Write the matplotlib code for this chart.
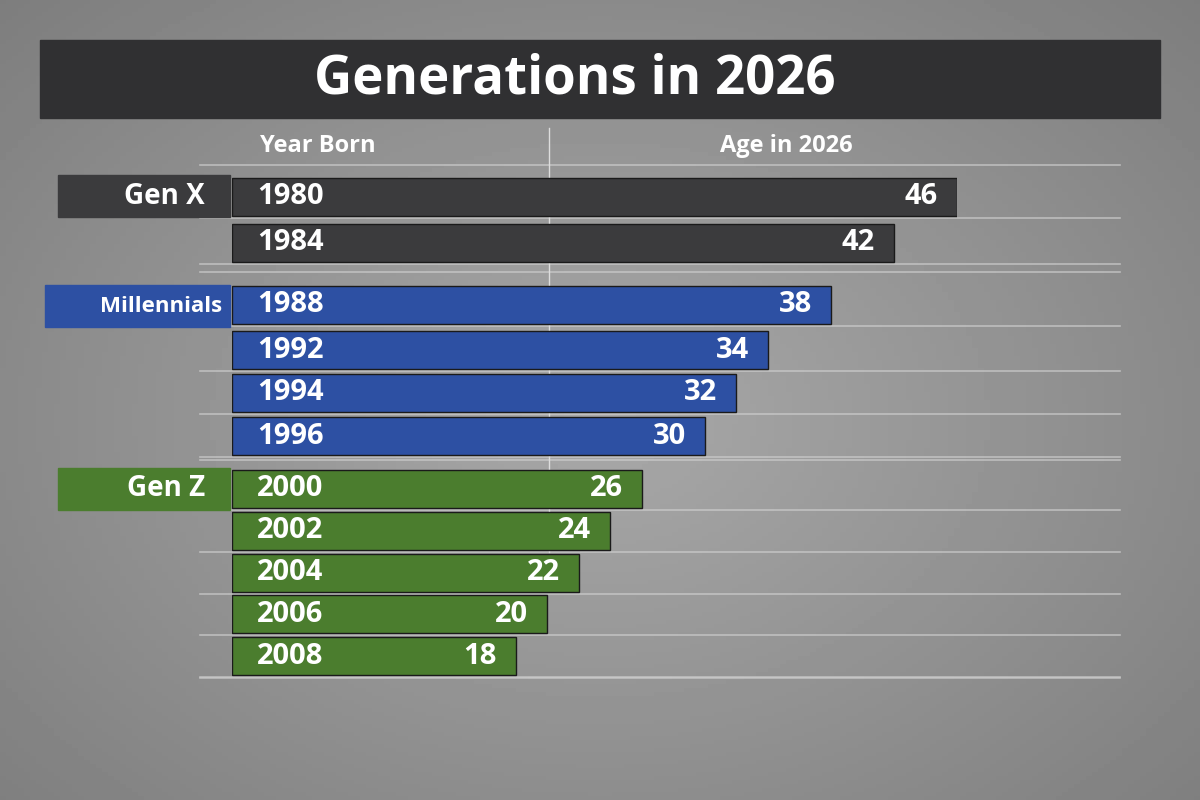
import matplotlib
matplotlib.use("Agg")
import matplotlib.pyplot as plt
import numpy as np
from matplotlib.patches import Rectangle

years = ["1980","1984","1988","1992","1994","1996","2000","2002","2004","2006","2008"]
ages = [46,42,38,34,32,30,26,24,22,20,18]
groups = ["Gen X"]*2 + ["Millennials"]*4 + ["Gen Z"]*5
group_names = ["Gen X","Millennials","Gen Z"]
colors = {"Gen X":"#3b3b3d","Millennials":"#2d50a3","Gen Z":"#4b7d2e"}
ypix = [197,243,305,350,393,436,489,531,573,614,656]

plt.rcParams['font.family'] = ['Open Sans','DejaVu Sans']
fig = plt.figure(figsize=(12,8), dpi=100)
bg = fig.add_axes([0,0,1,1]); bg.set_xlim(0,1200); bg.set_ylim(800,0); bg.axis('off')
yy, xx = np.mgrid[0:800:4j*50, 0:1200:4j*50]
d = np.sqrt(((xx-600)/700)**2 + ((yy-420)/500)**2)
bg.imshow(0.66-0.14*d, cmap='gray', vmin=0, vmax=1, extent=[0,1200,800,0], aspect='auto', zorder=0)
bg.add_patch(Rectangle((40,40),1120,78,color='#303032',zorder=1))
bg.text(575,80,"Generations in 2026",color='white',fontsize=38,fontweight='bold',ha='center',va='center',zorder=2)
bg.text(318,146,"Year Born",color='white',fontsize=17,fontweight='bold',ha='center',va='center')
bg.text(786,146,"Age in 2026",color='white',fontsize=17,fontweight='bold',ha='center',va='center')
for y in [165,272,460,678]+[y+21 for y in ypix]:
    bg.plot([200,1120],[y,y],color='#d0d0d0',lw=1.2,alpha=0.7,zorder=1)
bg.plot([549,549],[128,552],color='#dddddd',lw=1,zorder=5)
for g,(y0,y1) in zip(group_names,[(175,217),(285,327),(468,510)]):
    x0 = 58 if g!="Millennials" else 45
    bg.add_patch(Rectangle((x0,y0),230-x0,y1-y0,color=colors[g],zorder=2))
    bg.text(205 if g!="Millennials" else 222,(y0+y1)/2,g,color='white',fontweight='bold',fontsize=20 if g!="Millennials" else 16,ha='right',va='center',zorder=3)

ax = fig.add_axes([232/1200,0,(957-232)/1200,1], facecolor='none')
ax.set_xlim(0,46); ax.set_ylim(800,0); ax.axis('off')
ax.barh(ypix, ages, height=38, color=[colors[g] for g in groups], edgecolor='#1a1a1a', lw=1, zorder=3)
for y,yr,a in zip(ypix,years,ages):
    ax.text(1.6,y,yr,color='white',fontsize=21,fontweight='bold',va='center',zorder=4)
    ax.text(a-1.2,y,str(a),color='white',fontsize=21,fontweight='bold',va='center',ha='right',zorder=4)
fig.savefig("out.png", dpi=100)
